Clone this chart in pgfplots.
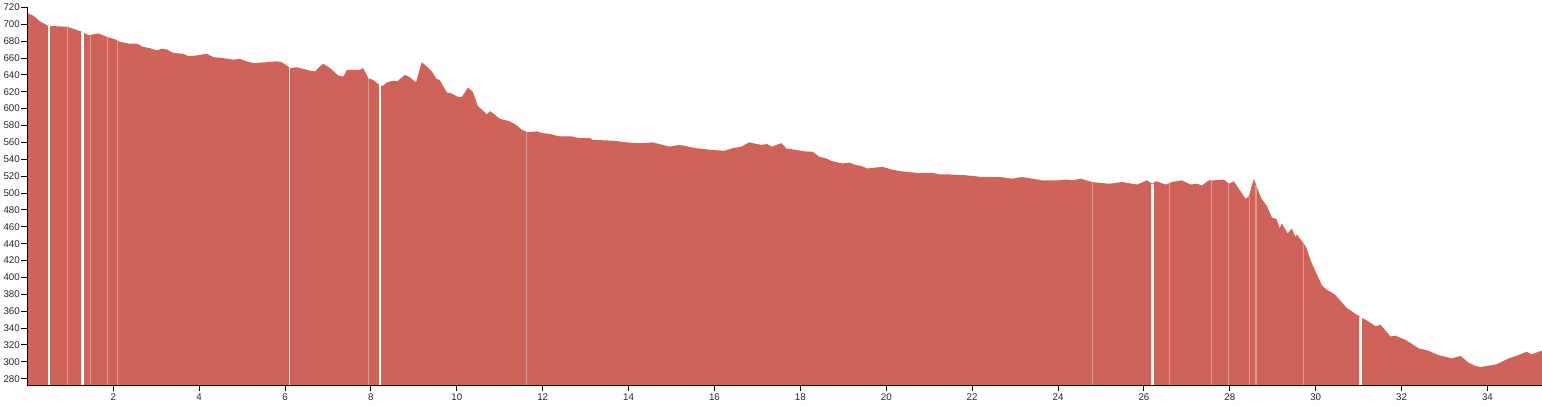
\documentclass[border=0pt]{standalone}
\usepackage{pgfplots}
\pgfplotsset{compat=1.18}
\usepackage{fontspec}
\setmainfont{Liberation Sans}
\definecolor{areacol}{RGB}{207,99,90}
\begin{document}
\begin{tikzpicture}
\begin{axis}[
  name=ax, at={(0,0)}, anchor=south west,
  scale only axis, width=1136pt, height=283.3pt,
  xmin=0, xmax=35.27, ymin=272.5, ymax=720,
  axis x line=bottom, axis y line=left,
  axis line style={-, black, line width=0.8pt},
  axis on top,
  xtick={2,4,...,34}, ytick={280,300,...,720},
  tick align=outside, major tick length=4.5pt,
  tick style={black, line width=0.7pt},
  ticklabel style={font=\fontsize{7.3pt}{8pt}\selectfont, text=black!85},
  yticklabel style={inner sep=1pt},
  xticklabel style={inner sep=1.5pt},
  /pgf/number format/assume math mode=true,
  /pgf/number format/.cd, 1000 sep={},
]
\addplot[fill=areacol, draw=none] coordinates {
(0,713) (0.14,710) (0.3,703) (0.49,698) (0.7,697.5) (0.93,697) (1.05,695) (1.27,691) (1.42,687) (1.66,689) (1.85,685) (2.05,682) (2.16,679) (2.36,677) (2.55,677) (2.7,673) (2.82,672) (3.02,669) (3.13,671) (3.25,670) (3.4,666) (3.63,665) (3.75,662) (3.95,663) (4.18,665) (4.33,661) (4.53,660) (4.8,658) (4.95,659) (5.1,656) (5.27,654) (5.58,655) (5.8,656) (5.92,655) (6.12,648) (6.27,649) (6.43,647) (6.58,645) (6.7,644) (6.81,650) (6.89,653) (7.05,648) (7.24,639) (7.36,638) (7.44,646) (7.59,646) (7.74,646) (7.82,648) (7.94,636) (8.05,634) (8.2,628) (8.28,627) (8.37,631) (8.51,633) (8.63,633) (8.79,640) (8.91,637) (9.05,631) (9.18,655) (9.3,650) (9.42,644) (9.53,635) (9.6,634) (9.77,619) (9.88,618) (10.02,614) (10.12,614) (10.26,625) (10.37,620) (10.49,603) (10.6,598) (10.7,593) (10.77,597) (10.88,593) (11.0,588) (11.23,585) (11.4,580) (11.51,575) (11.65,572) (11.86,573) (12.0,571) (12.16,570) (12.4,567) (12.67,567) (12.86,565) (13.1,565) (13.16,563) (13.63,562) (13.95,560) (14.26,559) (14.56,560) (14.95,555) (15.19,557) (15.58,553) (15.95,551) (16.23,550) (16.42,553) (16.63,555) (16.81,560) (17.09,557) (17.23,558) (17.33,555) (17.56,559) (17.67,553) (17.9,551) (18.14,549) (18.28,549) (18.44,543) (18.6,541) (18.72,538) (18.98,535) (19.14,536) (19.3,533) (19.42,532) (19.56,529) (19.91,531) (20.12,528) (20.3,526) (20.7,524) (21.07,524) (21.23,522) (21.47,522) (21.86,521) (22.23,519) (22.63,519) (22.93,517) (23.16,519) (23.4,517) (23.63,515) (24.02,515) (24.19,516) (24.33,515) (24.53,517) (24.79,513) (25.19,511) (25.49,513) (25.84,510) (26.07,515) (26.19,511) (26.28,514) (26.51,510) (26.65,513) (26.88,515) (27.09,510) (27.23,511) (27.35,509) (27.51,515) (27.63,515) (27.86,516) (27.98,511) (28.09,514) (28.37,493) (28.44,496) (28.56,517) (28.63,507) (28.74,493) (28.86,485) (28.98,471) (29.09,469) (29.16,458) (29.21,464) (29.35,452) (29.44,458) (29.53,448) (29.56,451) (29.72,440) (29.77,437) (29.89,419) (30.14,391) (30.26,385) (30.35,383) (30.46,379) (30.53,375) (30.72,364) (30.92,357) (31.05,353) (31.19,349) (31.4,342) (31.51,344) (31.74,330) (31.86,331) (32.09,326) (32.4,316) (32.63,313) (32.86,308) (33.17,304) (33.37,307) (33.56,299) (33.72,295) (33.86,294) (34.21,297) (34.49,304) (34.72,308) (34.91,312) (35.02,309) (35.19,312) (35.27,313)
} \closedcycle;
% data gaps: strong white
\addplot[ycomb, white, line width=2.2pt] coordinates {(1.29,691) (8.21,628) (26.2,511) (31.04,353)};
\addplot[ycomb, white, line width=1.1pt] coordinates {(0.5,698) (6.1,648)};
% faint gaps
\addplot[ycomb, white, opacity=0.35, line width=0.8pt] coordinates {(0.94,697) (1.47,688) (1.855,685) (2.1,681) (7.94,636) (11.62,572) (24.8,513) (26.6,512) (27.58,515) (27.96,511) (28.46,497) (28.61,510) (29.72,440)};
\end{axis}
\pgfresetboundingbox
\path[use as bounding box] ([shift={(-20.55pt,-15pt)}]ax.south west) rectangle ([shift={(0pt,5.5pt)}]ax.north east);
\end{tikzpicture}
\end{document}
